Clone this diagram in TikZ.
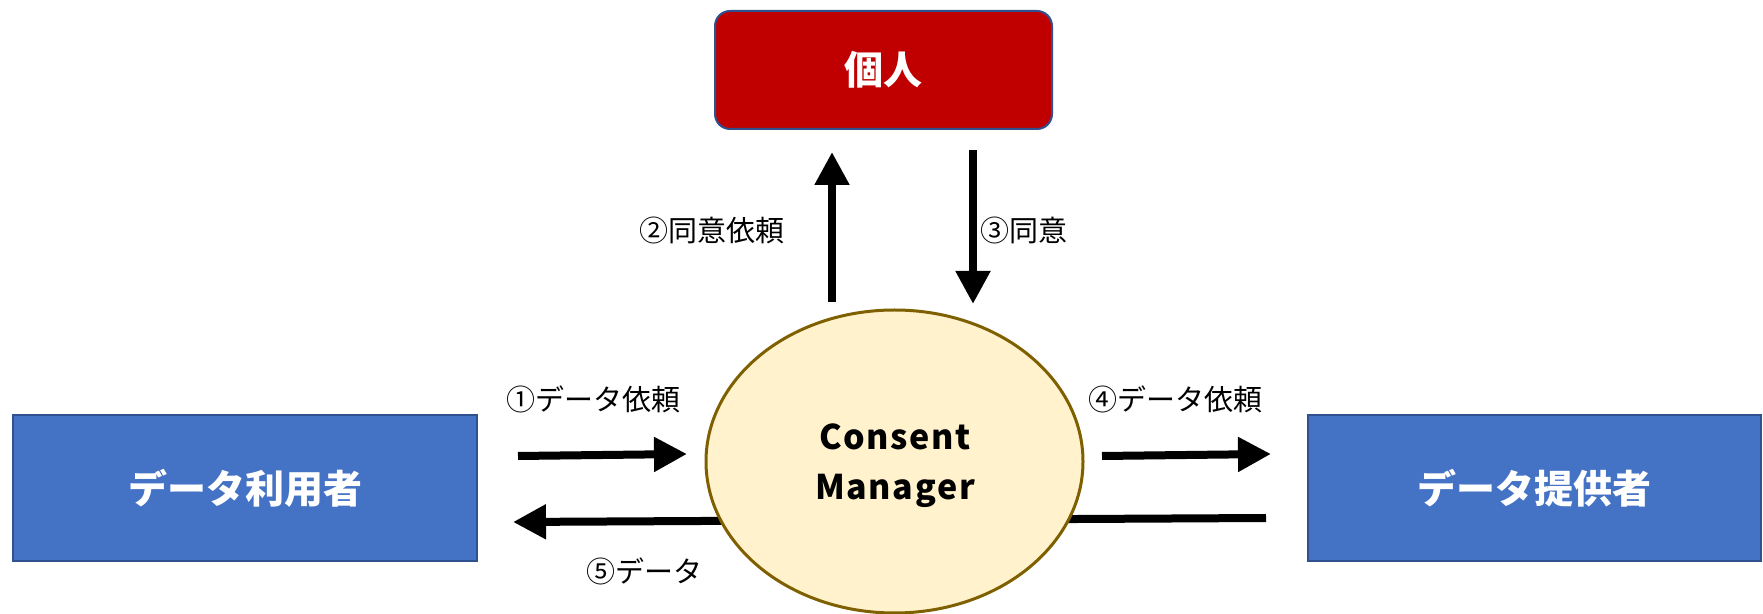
\documentclass[tikz,border=0pt]{standalone}
\usepackage{fontspec}
\setmainfont{Noto Sans CJK JP}
\newfontfamily\cmfont[LetterSpace=5]{Noto Sans CJK JP}
\usetikzlibrary{arrows.meta,shapes.geometric}
\definecolor{redbox}{HTML}{C00000}
\definecolor{bluebox}{HTML}{4472C4}
\definecolor{blueedge}{HTML}{2F528F}
\definecolor{cmfill}{HTML}{FFF2CC}
\definecolor{cmedge}{HTML}{7F6000}
\begin{document}
\begin{tikzpicture}[x=0.5pt,y=-0.5pt,
  box/.style={draw=blueedge, line width=1pt, text=white, inner sep=0pt,
    font=\fontsize{19.5}{23}\selectfont\bfseries},
  flow/.style={line width=4pt, -{Triangle[length=16.5pt,width=16.5pt]}},
  lbl/.style={font=\fontsize{14.5}{17}\selectfont, inner sep=0pt}]
\path[use as bounding box] (0,0) rectangle (1763,614);

% nodes
\node[box, fill=redbox, rounded corners=7.5pt, minimum width=168.5pt, minimum height=59pt] (person) at (883.5,70) {個人};
\node[box, fill=bluebox, minimum width=232pt, minimum height=73pt] (user) at (245,488) {データ利用者};
\node[box, fill=bluebox, minimum width=226.5pt, minimum height=73pt] (provider) at (1534.5,488) {データ提供者};

% connector end points
\coordinate (upS) at (832,302);
\coordinate (upE) at (832,152);
\coordinate (dnS) at (973,150);
\coordinate (dnE) at (973,304);
\coordinate (r1S) at (518,456);
\coordinate (r1E) at (687,454);
\coordinate (r4S) at (1102,456);
\coordinate (r4E) at (1271,454);
\coordinate (l5S) at (1266,518);
\coordinate (l5E) at (513,522);

\draw[flow] (upS) -- (upE);
\draw[flow] (dnS) -- (dnE);
\draw[flow] (r1S) -- (r1E);
\draw[flow] (r4S) -- (r4E);
\draw[flow] (l5S) -- (l5E);

% consent manager on top of the return line
\node[ellipse, draw=cmedge, line width=1.5pt, fill=cmfill, inner sep=0pt,
  minimum width=188.5pt, minimum height=151.5pt] (cm) at (894.5,461.5) {};
\node[font=\cmfont\fontsize{17}{25}\selectfont\bfseries, align=center, inner sep=0pt] (cmtext) at (895,466) {Consent\\Manager};

% labels
\node[lbl] (l2) at (712,230) {②同意依頼};
\node[lbl] (l3) at (1024,230) {③同意};
\node[lbl] (l1) at (593,399) {①データ依頼};
\node[lbl] (l4) at (1175,399) {④データ依頼};
\node[lbl] (l5) at (644,571) {⑤データ};
\end{tikzpicture}
\end{document}
